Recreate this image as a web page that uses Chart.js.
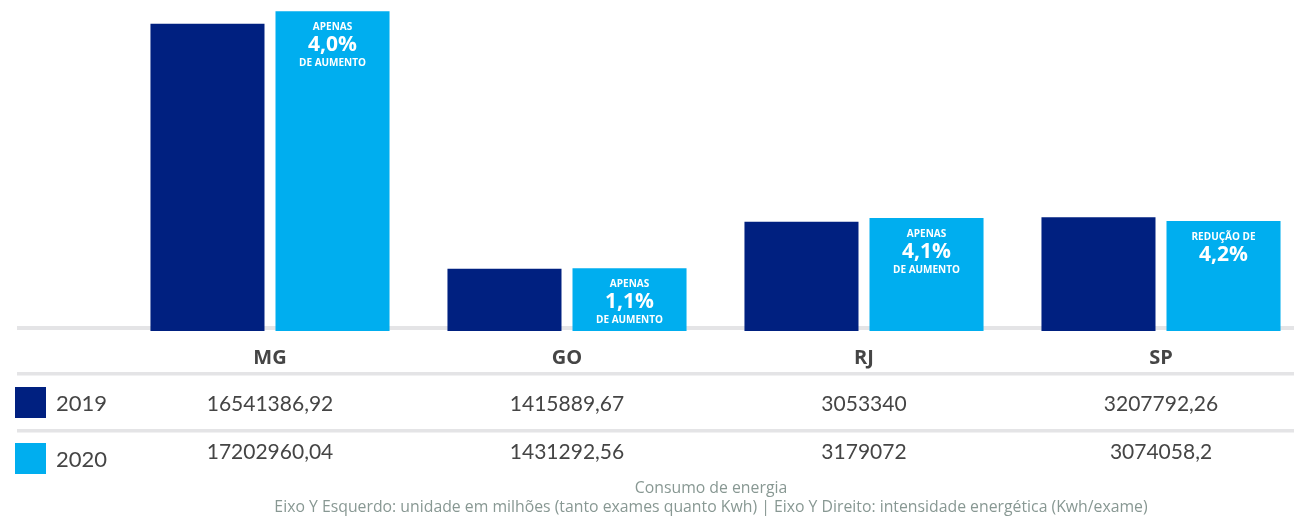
<!DOCTYPE html>
<html>
<head>
<meta charset="utf-8">
<script src="https://cdn.jsdelivr.net/npm/chart.js"></script>
<style>
  body { margin: 0; background: #fff; }
  #wrap { width: 1294px; height: 520px; position: relative; }
</style>
</head>
<body>
<div id="wrap"><canvas id="chart-energia"></canvas></div>
<script>
var estados = ['MG', 'GO', 'RJ', 'SP'];
var anos = ['2019', '2020'];
var consumo2019 = [16541386.92, 1415889.67, 3053340, 3207792.26];
var consumo2020 = [17202960.04, 1431292.56, 3179072, 3074058.2];
var rotulos2019 = ['16541386,92', '1415889,67', '3053340', '3207792,26'];
var rotulos2020 = ['17202960,04', '1431292,56', '3179072', '3074058,2'];
var notaTopo = ['APENAS', 'APENAS', 'APENAS', 'REDUÇÃO DE'];
var notaPct = ['4,0%', '1,1%', '4,1%', '4,2%'];
var notaBase = ['DE AUMENTO', 'DE AUMENTO', 'DE AUMENTO', ''];
// MG goes on the right axis, the other states on the left one
var eixoMG = ['MG'];
var minEsq = -752000, maxEsq = 10769000;
var maxDir = 17815000;

var azulEscuro = '#002080';
var azulClaro = '#00aeef';
var cinzaLinha = '#e4e4e6';
var corTexto = '#454545';
var fonte = 'Lato, "Open Sans", sans-serif';
var fonteNota = '"Open Sans", sans-serif';

function soEsquerdo(arr) { return arr.map(function(v, i) { return eixoMG.indexOf(estados[i]) === -1 ? v : null; }); }
function soDireito(arr) { return arr.map(function(v, i) { return eixoMG.indexOf(estados[i]) !== -1 ? v : null; }); }

var linhasFundo = {
  id: 'linhasFundo',
  beforeDatasetsDraw: function(chart) {
    var c = chart.ctx;
    c.save();
    c.fillStyle = cinzaLinha;
    c.fillRect(17, 326, 1277, 4);
    c.restore();
  }
};

var tabela = {
  id: 'tabela',
  afterDatasetsDraw: function(chart) {
    var c = chart.ctx;
    var x = chart.scales.x;
    c.save();

    // notes inside the 2020 bars
    c.fillStyle = '#ffffff';
    c.textAlign = 'center';
    c.textBaseline = 'middle';
    [1, 3].forEach(function(di) {
      var meta = chart.getDatasetMeta(di);
      meta.data.forEach(function(bar, i) {
        if (chart.data.datasets[di].data[i] == null) return;
        c.font = 'bold 10px ' + fonteNota;
        c.fillText(notaTopo[i], bar.x, bar.y + 16);
        c.font = 'bold 21px ' + fonteNota;
        c.fillText(notaPct[i], bar.x, bar.y + 34);
        if (notaBase[i]) {
          c.font = 'bold 10px ' + fonteNota;
          c.fillText(notaBase[i], bar.x, bar.y + 52);
        }
      });
    });

    // separators
    c.fillStyle = cinzaLinha;
    c.fillRect(17, 372, 1277, 3.5);
    c.fillRect(17, 429, 1277, 3.5);

    // state names
    c.fillStyle = corTexto;
    c.font = 'bold 20px ' + fonteNota;
    estados.forEach(function(e, i) {
      c.fillText(e, x.getPixelForValue(i), 358);
    });

    // values
    c.font = '21px ' + fonte;
    rotulos2019.forEach(function(t, i) { c.fillText(t, x.getPixelForValue(i), 404); });
    rotulos2020.forEach(function(t, i) { c.fillText(t, x.getPixelForValue(i), 452); });

    // legend column
    c.fillStyle = azulEscuro;
    c.fillRect(15, 387, 31, 31);
    c.fillStyle = azulClaro;
    c.fillRect(15, 443, 31, 31);
    c.fillStyle = corTexto;
    c.textAlign = 'left';
    c.font = '22px ' + fonte;
    c.fillText(anos[0], 56, 404);
    c.fillText(anos[1], 56, 460);

    // caption
    c.textAlign = 'center';
    c.fillStyle = '#889893';
    c.font = '15.8px ' + fonteNota;
    c.fillText('Consumo de energia', 711, 488);
    c.fillText('Eixo Y Esquerdo: unidade em milhões (tanto exames quanto Kwh) | Eixo Y Direito: intensidade energética (Kwh/exame)', 711, 507);
    c.restore();
  }
};

var ctx = document.getElementById('chart-energia');
var grafico = new Chart(ctx, {
  type: 'bar',
  data: {
    labels: estados,
    datasets: [
      { label: anos[0], data: soEsquerdo(consumo2019), backgroundColor: azulEscuro, yAxisID: 'y', base: minEsq },
      { label: anos[1], data: soEsquerdo(consumo2020), backgroundColor: azulClaro, yAxisID: 'y', base: minEsq },
      { label: anos[0], data: soDireito(consumo2019), backgroundColor: azulEscuro, yAxisID: 'y2' },
      { label: anos[1], data: soDireito(consumo2020), backgroundColor: azulClaro, yAxisID: 'y2' }
    ]
  },
  options: {
    responsive: true,
    maintainAspectRatio: false,
    animation: false,
    skipNull: true,
    clip: false,
    categoryPercentage: 0.842,
    barPercentage: 0.912,
    layout: { padding: { left: 270, right: 133, top: 0, bottom: 189 } },
    plugins: { legend: { display: false }, tooltip: { enabled: false } },
    scales: {
      x: { display: false, offset: false },
      y: { display: false, min: minEsq, max: maxEsq },
      y2: { display: false, position: 'right', min: 0, max: maxDir }
    }
  },
  plugins: [linhasFundo, tabela]
});
</script>
</body>
</html>
